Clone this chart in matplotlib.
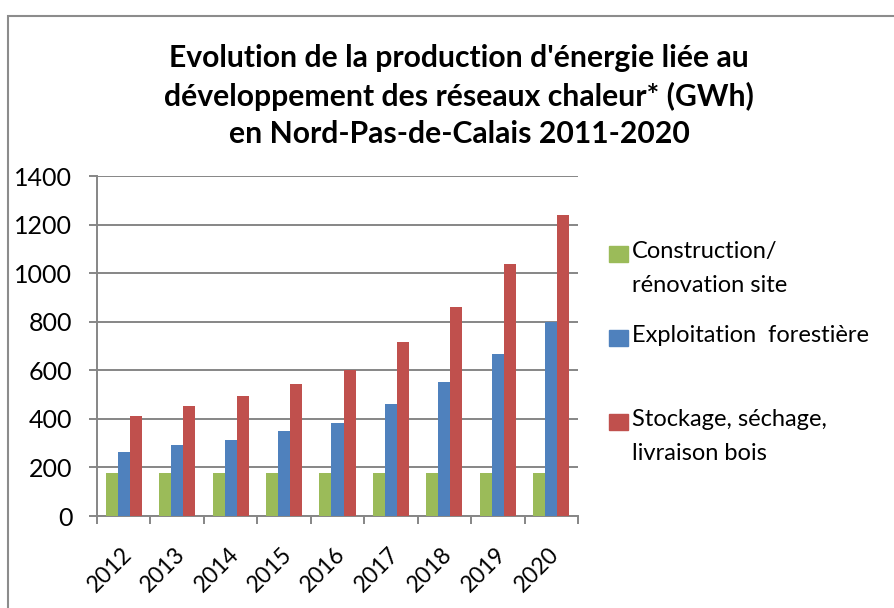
import matplotlib
matplotlib.use("Agg")
import matplotlib.pyplot as plt
from matplotlib.patches import Rectangle
import numpy as np

plt.rcParams['font.family'] = ['Lato', 'DejaVu Sans']

years = ['2012', '2013', '2014', '2015', '2016', '2017', '2018', '2019', '2020']
construction = [178, 178, 178, 178, 178, 178, 178, 178, 178]
exploitation = [265, 291, 315, 348, 381, 461, 553, 666, 797]
stockage = [413, 454, 495, 545, 602, 716, 862, 1036, 1240]

series = [
    ("Construction/\nrénovation site", construction, '#9BBB59'),
    ("Exploitation  forestière", exploitation, '#4F81BD'),
    ("Stockage, séchage,\nlivraison bois", stockage, '#C0504D'),
]

title = ("Evolution de la production d'énergie liée au\n"
         "développement des réseaux chaleur* (GWh)\n"
         "en Nord-Pas-de-Calais 2011-2020")

W, H = 894, 608
fig = plt.figure(figsize=(W / 100, H / 100), dpi=100)
ax = fig.add_axes([97 / W, 1 - 516 / H, (578 - 97) / W, (516 - 176) / H])

grid_col = '#868686'
x = np.arange(len(years))
bw = 0.225
for i, (label, vals, col) in enumerate(series):
    ax.bar(x + (i - 1) * bw, vals, bw, color=col, zorder=3)

ax.set_xlim(-0.5, len(years) - 0.5)
ax.set_ylim(0, 1400)
ax.set_yticks(range(0, 1401, 200))
ax.yaxis.grid(True, color=grid_col, linewidth=1.4, zorder=0)
ax.set_xticks(x - 0.05)
ax.set_xticklabels(years, rotation=45, ha='right', rotation_mode='anchor', fontsize=16.5)
ax.set_xticks(np.arange(-0.5, len(years)), minor=True)
ax.tick_params(axis='x', which='major', length=0, pad=20)
ax.tick_params(axis='x', which='minor', length=5.5, width=1.4, color=grid_col)
ax.tick_params(axis='y', length=5.8, width=1.4, color=grid_col, labelsize=18, pad=12)
for s in ['top', 'right']:
    ax.spines[s].set_visible(False)
for s in ['left', 'bottom']:
    ax.spines[s].set_color(grid_col)
    ax.spines[s].set_linewidth(1.4)

fig.text(459 / W, 1 - 96 / H, title, ha='center', va='center', fontsize=21.7,
         fontweight='bold', linespacing=1.42)

# legend drawn by hand so the square sits beside the first line
leg_y = [254, 338, 422]
for (label, vals, col), yy in zip(series, leg_y):
    fig.patches.append(Rectangle((609 / W, 1 - (yy + 8) / H), 19 / W, 16 / H,
                                 transform=fig.transFigure, color=col))
    fig.text(632 / W, 1 - (yy - 13) / H, label, ha='left', va='top', fontsize=17,
             linespacing=1.75)

# outer chart frame
fig.patches.append(Rectangle((8 / W, -0.1), 1.2, 1 - 16 / H + 0.1,
                             transform=fig.transFigure, fill=False,
                             edgecolor='#8c8c8c', linewidth=1.5))

fig.savefig('out.png', dpi=100)
